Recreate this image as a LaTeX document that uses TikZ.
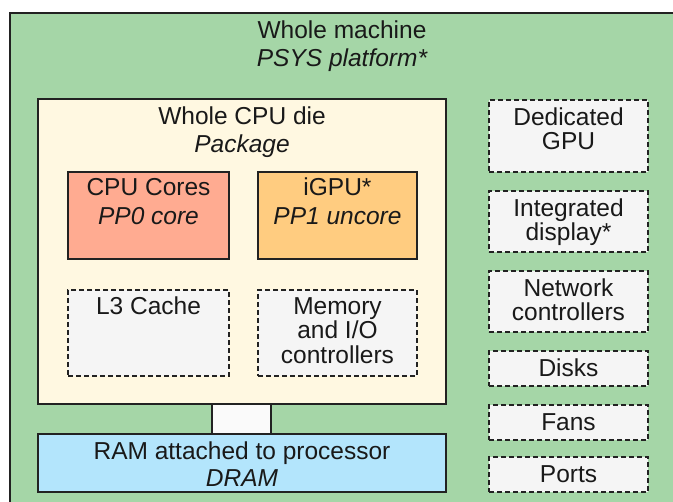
\documentclass[tikz,border=0pt]{standalone}
\usepackage{fontspec}
\setmainfont{Liberation Sans}
\usetikzlibrary{positioning}
\definecolor{machinegreen}{HTML}{A5D6A7}
\definecolor{diecream}{HTML}{FFF8E1}
\definecolor{coresalmon}{HTML}{FFAB91}
\definecolor{gpuorange}{HTML}{FFCC80}
\definecolor{ramblue}{HTML}{B3E5FC}
\definecolor{dashgray}{HTML}{F5F5F5}
\definecolor{linkwhite}{HTML}{FAFAFA}
\definecolor{edgegray}{HTML}{222222}
\tikzset{
  boxbase/.style={rectangle, inner sep=0pt, outer sep=0pt, line width=1.3pt, draw=edgegray},
  solidbox/.style={boxbase},
  dashbox/.style={boxbase, fill=dashgray, dash pattern=on 5pt off 3pt},
  lbl/.style={anchor=base, inner sep=0pt, font=\fontsize{24.5}{27}\selectfont, text=black!90},
  ilbl/.style={lbl, font=\fontsize{24.5}{27}\selectfont\itshape},
}
\begin{document}
\begin{tikzpicture}[x=1pt,y=-1pt]
\useasboundingbox (0,0) rectangle (673,502);
\clip (0,0) rectangle (673,502);
% whole machine
\node[solidbox, fill=machinegreen, minimum width=680pt, minimum height=507pt] (machine) at (350,266.5) {};
\node[lbl] (machineT) at (342,38.5) {Whole machine};
\node[ilbl] (machineS) at (342,67) {PSYS platform*};
% package
\node[solidbox, fill=diecream, minimum width=408pt, minimum height=305pt] (pkg) at (242,251.5) {};
\node[lbl] (pkgT) at (242,125) {Whole CPU die};
\node[ilbl] (pkgS) at (242,153) {Package};
% cores
\node[solidbox, fill=coresalmon, minimum width=161pt, minimum height=87pt] (cpu) at (148.5,215.5) {};
\node[lbl] (cpuT) at (148.5,195.5) {CPU Cores};
\node[ilbl] (cpuS) at (148.5,224.5) {PP0 core};
\node[solidbox, fill=gpuorange, minimum width=159pt, minimum height=87pt] (igpu) at (337.5,215.5) {};
\node[lbl] (igpuT) at (337.5,195.5) {iGPU*};
\node[ilbl] (igpuS) at (337.5,224.5) {PP1 uncore};
% L3 and memory
\node[dashbox, minimum width=161pt, minimum height=86pt] (l3) at (148.5,333) {};
\node[lbl] (l3T) at (148.5,314.5) {L3 Cache};
\node[dashbox, minimum width=159pt, minimum height=86pt] (mem) at (337.5,333) {};
\node[lbl] (memA) at (337.5,314.5) {Memory};
\node[lbl] (memB) at (337.5,339) {and I/O};
\node[lbl] (memC) at (337.5,363.5) {controllers};
% link and RAM
\node[solidbox, fill=linkwhite, minimum width=59pt, minimum height=30pt] (link) at (241.5,419) {};
\node[solidbox, fill=ramblue, minimum width=408pt, minimum height=58pt] (ram) at (242,463) {};
\node[lbl] (ramT) at (242,459.5) {RAM attached to processor};
\node[ilbl] (ramS) at (242,486.5) {DRAM};
% right column
\node[dashbox, minimum width=159pt, minimum height=72pt] (dgpu) at (568.5,136) {};
\node[lbl] (dgpuA) at (568.5,125.5) {Dedicated};
\node[lbl] (dgpuB) at (568.5,149.5) {GPU};
\node[dashbox, minimum width=159pt, minimum height=61pt] (idisp) at (568.5,221.5) {};
\node[lbl] (idispA) at (568.5,216.5) {Integrated};
\node[lbl] (idispB) at (568.5,240.5) {display*};
\node[dashbox, minimum width=159pt, minimum height=61pt] (net) at (568.5,301.5) {};
\node[lbl] (netA) at (568.5,296.5) {Network};
\node[lbl] (netB) at (568.5,320.5) {controllers};
\node[dashbox, minimum width=159pt, minimum height=35pt] (disks) at (568.5,368.5) {};
\node[lbl] (disksT) at (568.5,376.5) {Disks};
\node[dashbox, minimum width=159pt, minimum height=35pt] (fans) at (568.5,422.5) {};
\node[lbl] (fansT) at (568.5,430.5) {Fans};
\node[dashbox, minimum width=159pt, minimum height=35pt] (ports) at (568.5,474.5) {};
\node[lbl] (portsT) at (568.5,482.5) {Ports};
\end{tikzpicture}
\end{document}
